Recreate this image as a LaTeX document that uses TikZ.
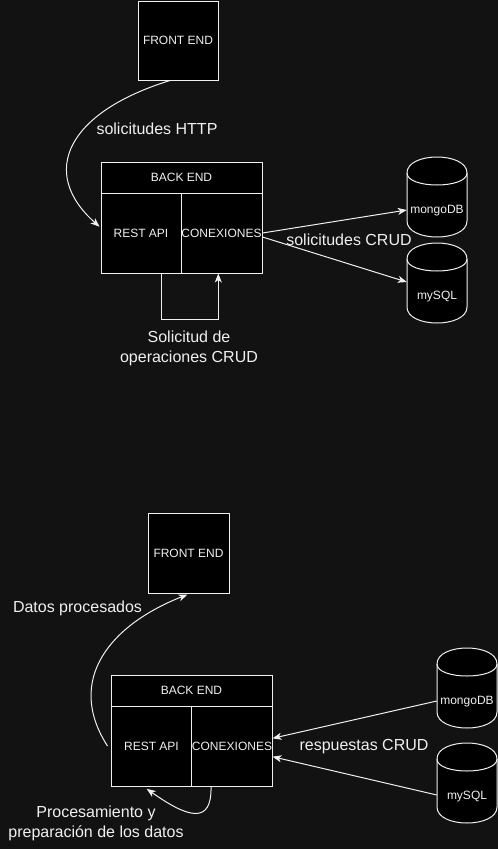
\documentclass[tikz,border=0pt]{standalone}
\usepackage{fontspec}
\setmainfont{Liberation Sans}
\usetikzlibrary{arrows.meta}
\definecolor{bg}{RGB}{18,18,18}
\definecolor{fg}{RGB}{240,240,240}
\newcommand{\dbcyl}[4]{%
  \node[cylnode] (#1) at ({#2+30},{-#3-40}) {};
  \draw[draw=fg, fill=black, line width=1pt]
    ({#2},{-#3-16}) .. controls ({#2},{-#3+5.333}) and ({#2+60},{-#3+5.333}) .. ({#2+60},{-#3-16})
    -- ({#2+60},{-#3-64}) .. controls ({#2+60},{-#3-85.333}) and ({#2},{-#3-85.333}) .. ({#2},{-#3-64}) -- cycle;
  \draw[draw=fg, line width=1pt]
    ({#2},{-#3-16}) .. controls ({#2},{-#3-32}) and ({#2+60},{-#3-32}) .. ({#2+60},{-#3-16});
  \node[boxtext] (#1t) at ({#2+30},{-#3-53.5}) {#4};
}
\begin{document}
\begin{tikzpicture}[x=1pt,y=1pt,
  box/.style={draw=fg, fill=black, line width=1pt, text=fg, font=\fontsize{12}{14}\selectfont, inner sep=0pt, align=center},
  boxtext/.style={text=fg, font=\fontsize{12}{14}\selectfont, inner sep=0pt},
  lbl/.style={text=fg, font=\fontsize{16}{20}\selectfont, align=center, inner sep=0pt},
  conn/.style={draw=fg, line width=1pt, -{Stealth[length=9pt,width=7pt,inset=2.5pt]}},
  cylnode/.style={inner sep=0pt, minimum width=60pt, minimum height=80pt},
]
\fill[bg] (0,0) rectangle (498,-849);
\useasboundingbox (0,0) rectangle (498,-849);

% ---------- top diagram ----------
\node[box, minimum width=80pt, minimum height=79pt] (fe1) at (178,-40.5) {FRONT END};
\node[box, minimum width=161pt, minimum height=31pt] (be1) at (181.5,-177.5) {BACK END};
\node[box, minimum width=80pt, minimum height=80pt] (rest1) at (141,-233) {REST API};
\node[box, minimum width=81pt, minimum height=80pt] (con1) at (221.5,-233) {CONEXIONES};

\dbcyl{mongo1}{407}{157}{mongoDB}
\dbcyl{mysql1}{407}{243}{mySQL}

\draw[conn] ([xshift=-8pt]fe1.south) .. controls (68,-112) and (38,-172) .. ([xshift=-1pt,yshift=6.3pt]rest1.west);
\node[lbl] (lhttp) at (157,-129) {solicitudes HTTP};

\draw[conn] (con1.east) -- ([yshift=-13pt]mongo1.west);
\draw[conn] ([yshift=-4pt]con1.east) -- ([yshift=1pt]mysql1.west);
\node[lbl] (lcrud1) at (349,-240) {solicitudes CRUD};

\draw[conn] ([xshift=20.7pt]rest1.south) -- ++(0,-46) -| ([xshift=-3.2pt]con1.south);
\node[lbl] (lsol) at (189,-348) {Solicitud de\\operaciones CRUD};

% ---------- bottom diagram ----------
\node[box, minimum width=81pt, minimum height=80pt] (fe2) at (188.5,-553) {FRONT END};
\node[box, minimum width=161pt, minimum height=31pt] (be2) at (191.5,-690.5) {BACK END};
\node[box, minimum width=81pt, minimum height=80pt] (rest2) at (151.5,-746) {REST API};
\node[box, minimum width=80pt, minimum height=80pt] (con2) at (232,-746) {CONEXIONES};

\dbcyl{mongo2}{437}{648}{mongoDB}
\dbcyl{mysql2}{437}{743}{mySQL}

\draw[conn] ([yshift=-13pt]mongo2.west) -- ([yshift=7.7pt]con2.east);
\draw[conn] ([yshift=-12pt]mysql2.west) -- ([yshift=-10.7pt]con2.east);
\node[lbl] (lresp) at (364,-746.7) {respuestas CRUD};

\draw[conn] ([xshift=-3pt]rest2.west) .. controls (65,-680) and (110,-625) .. ([xshift=-1pt,yshift=-1pt]fe2.south);
\node[lbl] (ldatos) at (77.5,-608.3) {Datos procesados};

\draw[conn] ([xshift=-21pt]con2.south) .. controls (212,-825) and (188,-818) .. ([xshift=-4.8pt,yshift=-2.3pt]rest2.south);
\node[lbl] (lproc) at (96,-823.3) {Procesamiento y\\preparación de los datos};
\end{tikzpicture}
\end{document}
